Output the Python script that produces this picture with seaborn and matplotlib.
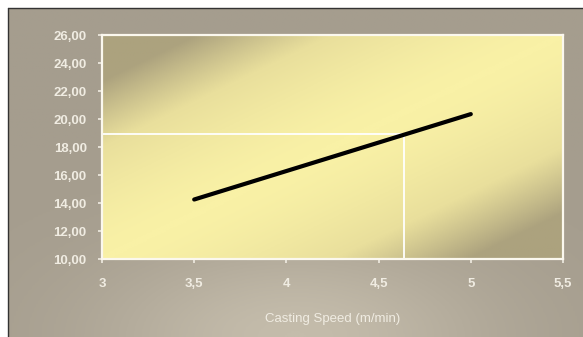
import numpy as np
import matplotlib
matplotlib.use("Agg")
import matplotlib.pyplot as plt
import seaborn as sns
from matplotlib.colors import LinearSegmentedColormap
from matplotlib.ticker import FuncFormatter

# data
speed = [3.5, 5.0]
thickness = [14.25, 20.35]
target_speed = 4.64
target_value = 18.95
x_ticks = [3, 3.5, 4, 4.5, 5, 5.5]
y_ticks = [10, 12, 14, 16, 18, 20, 22, 24, 26]

sns.set_theme(style="white")
plt.rcParams["font.family"] = ["Liberation Sans", "DejaVu Sans"]

fig = plt.figure(figsize=(5.83, 3.37), dpi=100)
fig.patch.set_facecolor("white")

# outer panel with gradient
bg = fig.add_axes([0, 0, 1, 1])
bg.set_xlim(0, 583)
bg.set_ylim(337, 0)
bg.axis("off")
xx, yy = np.meshgrid(np.linspace(0, 1, 300), np.linspace(0, 1, 200))
glow = np.exp(-((xx - 0.5) ** 2 / 0.12 + (yy - 1.0) ** 2 / 0.08))
outer_cmap = LinearSegmentedColormap.from_list("outer", ["#a59d8e", "#c4bcab"])
bg.imshow(glow, cmap=outer_cmap, extent=[8, 583, 337, 8], aspect="auto", zorder=0)
bg.plot([8, 583], [7.5, 7.5], color="#333333", lw=1.0, zorder=2)
bg.plot([8, 8], [7.5, 337], color="#333333", lw=1.0, zorder=2)

# plot area
ax = fig.add_axes([102 / 583, 1 - 259 / 337, (563 - 102) / 583, (259 - 35) / 337])
ax.set_xlim(3, 5.5)
ax.set_ylim(10, 26)
u, v = np.meshgrid(np.linspace(0, 1, 300), np.linspace(1, 0, 200))
d = u - v
shade = np.clip(np.abs(d) * 1.25, 0, 1) ** 1.5
inner_cmap = LinearSegmentedColormap.from_list("inner", ["#f9f1a6", "#e9df9c", "#aca27e"])
ax.imshow(shade, cmap=inner_cmap, extent=[3, 5.5, 10, 26], aspect="auto",
          origin="upper", zorder=0, vmin=0, vmax=1)

ax.plot([3, target_speed], [target_value, target_value], color="white", lw=1.3, zorder=2)
ax.plot([target_speed, target_speed], [10, target_value], color="white", lw=1.3, zorder=2)
sns.lineplot(x=speed, y=thickness, ax=ax, color="black", linewidth=3, zorder=3)

for s in ax.spines.values():
    s.set_color("#fbf8ee")
    s.set_linewidth(1.6)
ax.set_xticks(x_ticks)
ax.set_yticks(y_ticks)
ax.xaxis.set_major_formatter(FuncFormatter(lambda v, p: f"{v:g}".replace(".", ",")))
ax.yaxis.set_major_formatter(FuncFormatter(lambda v, p: f"{v:.2f}".replace(".", ",")))
ax.tick_params(axis="both", colors="#f0ece2", labelsize=9.5, length=3, width=1.2,
               direction="out", bottom=True, left=True)
ax.tick_params(axis="y", pad=8)
ax.tick_params(axis="x", pad=11)
for lab in ax.get_xticklabels() + ax.get_yticklabels():
    lab.set_fontweight("bold")
ax.set_xlabel("Casting Speed (m/min)", color="#f0ece2", fontsize=9.5, labelpad=16)
ax.grid(False)

fig.savefig("out.png", dpi=100)
